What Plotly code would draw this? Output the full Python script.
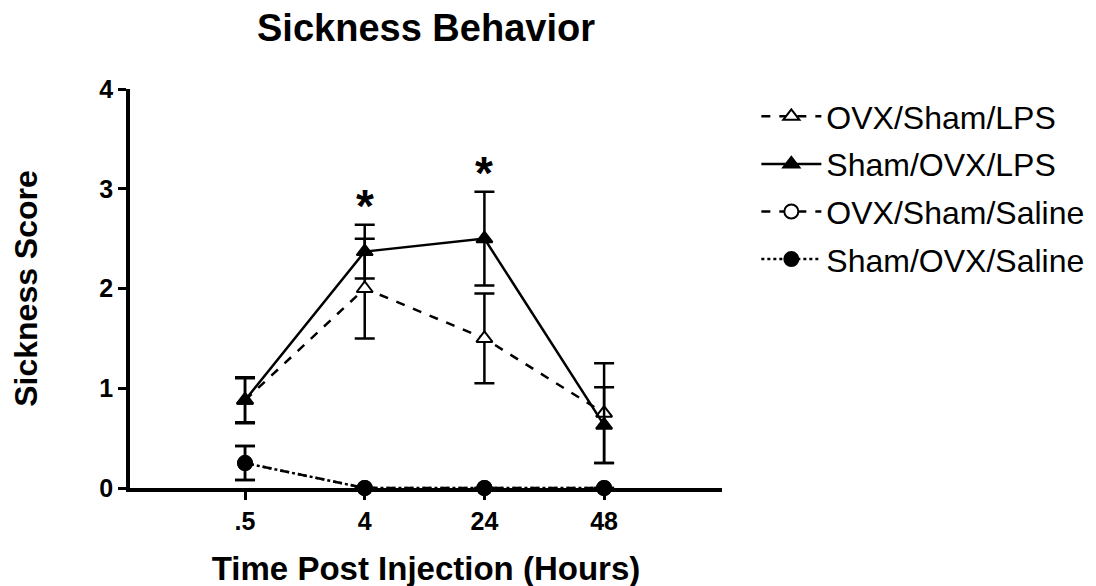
import plotly.graph_objects as go

# ---- data ----
time_labels = [".5", "4", "24", "48"]
x_pos = [0, 1, 2, 3]

ovx_sham_lps = [0.88, 2.0, 1.5, 0.75]
ovx_sham_lps_sem = [0.22, 0.5, 0.45, 0.5]

sham_ovx_lps = [0.88, 2.37, 2.5, 0.63]
sham_ovx_lps_sem = [0.23, 0.27, 0.47, 0.38]

ovx_sham_saline = [0.25, 0.0, 0.0, 0.0]
ovx_sham_saline_sem = [0.17, 0.0, 0.0, 0.0]

sham_ovx_saline = [0.25, 0.0, 0.0, 0.0]
sham_ovx_saline_sem = [0.17, 0.0, 0.0, 0.0]

sig_index = [1, 2]  # time points with significance star

FONT = "Arial, Liberation Sans, sans-serif"

fig = go.Figure()

def add(name, y, err, dash, symbol, fill, group):
    fig.add_trace(go.Scatter(
        x=x_pos, y=y, name=name, mode="lines+markers",
        legendgroup=group,
        line=dict(color="black", width=2.5, dash=dash),
        marker=dict(symbol=symbol, size=14, color=fill,
                    line=dict(color="black", width=2)),
        error_y=dict(type="data", array=err, visible=True,
                     color="black", thickness=2.5, width=10),
        cliponaxis=False,
    ))

add("OVX/Sham/LPS", ovx_sham_lps, ovx_sham_lps_sem, "dash", "triangle-up", "white", "a")
add("Sham/OVX/LPS", sham_ovx_lps, sham_ovx_lps_sem, "solid", "triangle-up", "black", "b")
add("OVX/Sham/Saline", ovx_sham_saline, ovx_sham_saline_sem, "dash", "circle", "white", "c")
add("Sham/OVX/Saline", sham_ovx_saline, sham_ovx_saline_sem, "dot", "circle", "black", "d")

# significance stars above the highest error bar
for i in sig_index:
    top = max(sham_ovx_lps[i] + sham_ovx_lps_sem[i], ovx_sham_lps[i] + ovx_sham_lps_sem[i])
    fig.add_annotation(x=x_pos[i], y=top, yshift=19, text="<b>*</b>", showarrow=False,
                       font=dict(family=FONT, size=46, color="black"))

# chart title
fig.add_annotation(text="<b>Sickness Behavior</b>", xref="paper", yref="paper",
                   x=0.5, y=1.152, xanchor="center", yanchor="middle", showarrow=False,
                   font=dict(size=38, family=FONT, color="black"))

fig.update_layout(
    width=1096, height=586,
    paper_bgcolor="white", plot_bgcolor="white",
    margin=dict(l=122, r=382, t=81, b=106),
    font=dict(family=FONT, color="black"),
    legend=dict(x=1.058, y=1.0, xanchor="left", yanchor="top",
                font=dict(size=32, family=FONT, color="black"),
                tracegroupgap=3, itemwidth=60, bgcolor="rgba(0,0,0,0)"),
    showlegend=True,
)

fig.update_xaxes(
    type="linear", range=[-0.961, 3.985],
    tickmode="array", tickvals=x_pos, ticktext=time_labels,
    showline=True, linewidth=3.5, linecolor="black",
    ticks="outside", ticklen=8, tickwidth=3, tickcolor="black",
    showgrid=False, zeroline=False,
    tickfont=dict(size=25, family=FONT, color="black", weight="bold"),
    title=dict(text="Time Post Injection (Hours)", standoff=24,
               font=dict(size=33, family=FONT, color="black", weight="bold")),
)
fig.update_yaxes(
    range=[0, 4], tickvals=[0, 1, 2, 3, 4],
    showline=True, linewidth=3.5, linecolor="black",
    ticks="outside", ticklen=8, tickwidth=3, tickcolor="black",
    showgrid=False, zeroline=False,
    tickfont=dict(size=25, family=FONT, color="black", weight="bold"),
    title=dict(text="Sickness Score", standoff=56,
               font=dict(size=32, family=FONT, color="black", weight="bold")),
)

fig.write_html("out.html")
